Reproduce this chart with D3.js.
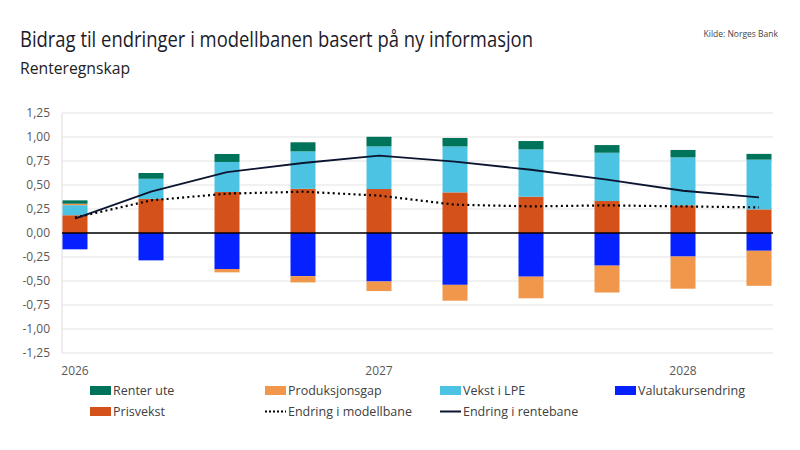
<!DOCTYPE html>
<html>
<head>
<meta charset="utf-8">
<script src="https://cdn.jsdelivr.net/npm/d3@7"></script>
<style>
  body { margin: 0; background: white; }
  text { font-family: "Open Sans", "Noto Sans", sans-serif; }
</style>
</head>
<body>
<div id="Canvas"></div>
<script>
// kvartaler 2026K1 - 2028K2
let quarters = ["2026K1","2026K2","2026K3","2026K4","2027K1","2027K2","2027K3","2027K4","2028K1","2028K2"]
let yearLabels = [{i:0, t:"2026"}, {i:4, t:"2027"}, {i:8, t:"2028"}]

let prisvekst   = [0.185, 0.355, 0.427, 0.46, 0.458, 0.423, 0.378, 0.333, 0.288, 0.246]
let valuta      = [-0.17, -0.285, -0.375, -0.45, -0.505, -0.54, -0.455, -0.34, -0.245, -0.185]
let lpe         = [0.105, 0.21, 0.313, 0.39, 0.444, 0.479, 0.493, 0.503, 0.50, 0.518]
let prodgap     = [0.015, 0, -0.035, -0.065, -0.10, -0.165, -0.225, -0.28, -0.335, -0.365]
let renterUte   = [0.035, 0.06, 0.083, 0.095, 0.10, 0.088, 0.087, 0.08, 0.077, 0.06]
let modellbane  = [0.16, 0.34, 0.41, 0.43, 0.39, 0.295, 0.277, 0.288, 0.277, 0.267]
let rentebane   = [0.15, 0.43, 0.635, 0.729, 0.805, 0.743, 0.659, 0.555, 0.44, 0.371]
let yTicks = [1.25, 1, 0.75, 0.5, 0.25, 0, -0.25, -0.5, -0.75, -1, -1.25]

let keys = ["prisvekst","valuta","lpe","prodgap","renterUte"]
let colors = {prisvekst:"#D5511A", valuta:"#0521FF", lpe:"#4CC3E2", prodgap:"#F0974B", renterUte:"#00745A"}
let table = quarters.map((q,i)=>({q:q, prisvekst:prisvekst[i], valuta:valuta[i], lpe:lpe[i], prodgap:prodgap[i], renterUte:renterUte[i]}))

let svg = d3.select("#Canvas").append("svg")
    .attr("width", 800).attr("height", 450)
    .style("background", "white")

// titler
svg.append("text").attr("x", 20).attr("y", 47)
    .attr("textLength", 513).attr("lengthAdjust", "spacingAndGlyphs")
    .style("font-size", "21px").style("fill", "#1b1b2b")
    .text("Bidrag til endringer i modellbanen basert på ny informasjon")
svg.append("text").attr("x", 20).attr("y", 74)
    .attr("textLength", 110).attr("lengthAdjust", "spacingAndGlyphs")
    .style("font-size", "16px").style("fill", "#222")
    .text("Renteregnskap")
svg.append("text").attr("x", 778).attr("y", 37).attr("text-anchor", "end")
    .style("font-size", "8.5px").style("fill", "#444")
    .text("Kilde: Norges Bank")

let X = d3.scaleLinear().domain([0, 9]).range([75, 759])
let Y = d3.scaleLinear().domain([-1.25, 1.25]).range([353, 113])
let barW = 25

// grid
svg.append("g").selectAll("line").data(yTicks).enter()
    .append("line")
    .attr("x1", 62).attr("x2", 773)
    .attr("y1", d=>Y(d)).attr("y2", d=>Y(d))
    .style("stroke", "#e4e4e4").style("stroke-width", "1.2px")
svg.append("line").attr("x1", 62).attr("x2", 62).attr("y1", Y(1.25)).attr("y2", Y(-1.25))
    .style("stroke", "#dcdcdc").style("stroke-width", "1px")

let Y_axis = d3.axisLeft(Y).tickValues(yTicks).tickSize(0).tickPadding(12)
    .tickFormat(d=>d3.format(".2f")(d).replace(".", ",").replace("−", "-"))
svg.append("g").attr("class", "Y_axis").attr("transform", "translate(62,0)")
    .call(Y_axis)
    .call(g=>g.select(".domain").remove())
    .selectAll("text").style("font-size", "12px").style("fill", "#595959")
    .style("font-family", "'Open Sans', sans-serif")

// årstall
svg.append("g").selectAll("text").data(yearLabels).enter()
    .append("text")
    .attr("x", d=>X(d.i)).attr("y", 375).attr("text-anchor", "middle")
    .style("font-size", "12px").style("fill", "#595959")
    .text(d=>d.t)

// stablede søyler
let series = d3.stack().keys(keys).offset(d3.stackOffsetDiverging)(table)
svg.append("g").selectAll("g").data(series).enter()
    .append("g").style("fill", d=>colors[d.key])
    .selectAll("rect").data(d=>d).enter()
    .append("rect")
    .attr("x", (d,i)=>X(i) - barW/2)
    .attr("width", barW)
    .attr("y", d=>Y(d[1]))
    .attr("height", d=>Math.abs(Y(d[0]) - Y(d[1])))

// nullinje
svg.append("line").attr("x1", 62).attr("x2", 773).attr("y1", Y(0)).attr("y2", Y(0))
    .style("stroke", "black").style("stroke-width", "1.6px")

let line = d3.line().x((d,i)=>X(i)).y(d=>Y(d))
svg.append("path").attr("d", line(modellbane))
    .attr("fill", "none").attr("stroke", "black")
    .attr("stroke-width", 2.2).attr("stroke-dasharray", "2,3.2")
svg.append("path").attr("d", line(rentebane))
    .attr("fill", "none").attr("stroke", "#0c1530")
    .attr("stroke-width", 1.8)

// legend
let legend = [
    {t:"Renter ute", c:colors.renterUte, type:"rect", x:90, y:390},
    {t:"Produksjonsgap", c:colors.prodgap, type:"rect", x:265, y:390},
    {t:"Vekst i LPE", c:colors.lpe, type:"rect", x:440, y:390},
    {t:"Valutakursendring", c:colors.valuta, type:"rect", x:615, y:390},
    {t:"Prisvekst", c:colors.prisvekst, type:"rect", x:90, y:411},
    {t:"Endring i modellbane", c:"black", type:"dot", x:265, y:411},
    {t:"Endring i rentebane", c:"#0c1530", type:"line", x:440, y:411}
]
let lg = svg.append("g").selectAll("g").data(legend).enter()
    .append("g").attr("transform", d=>"translate(" + d.x + "," + d.y + ")")
lg.filter(d=>d.type=="rect").append("rect")
    .attr("x", 0).attr("y", -4).attr("width", 21).attr("height", 9)
    .style("fill", d=>d.c)
lg.filter(d=>d.type!="rect").append("line")
    .attr("x1", 0).attr("x2", 21).attr("y1", 0.5).attr("y2", 0.5)
    .attr("stroke", d=>d.c).attr("stroke-width", 2)
    .attr("stroke-dasharray", d=>d.type=="dot" ? "2,2" : null)
lg.append("text").attr("x", 23).attr("y", 5)
    .style("font-size", "12.5px").style("fill", "#404040")
    .text(d=>d.t)
</script>
</body>
</html>
